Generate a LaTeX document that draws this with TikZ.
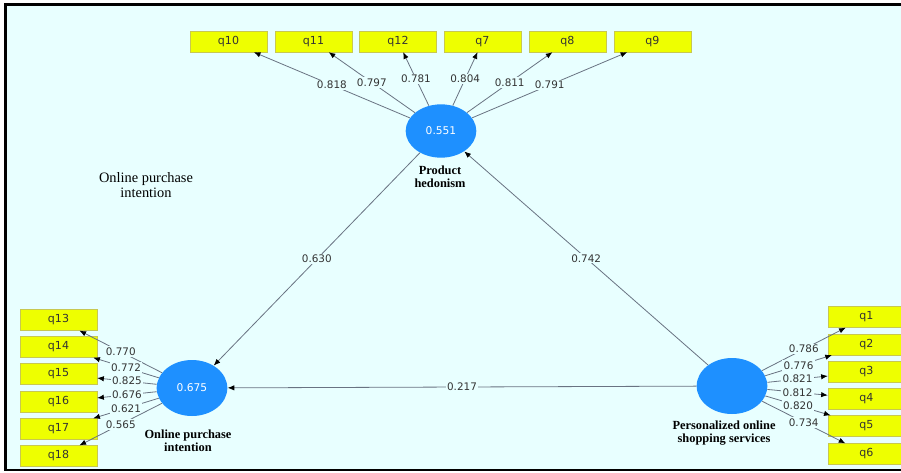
\documentclass[tikz,border=0pt]{standalone}
\usepackage{fontspec}
\setmainfont{Liberation Serif}
\setsansfont{DejaVu Sans}
\usetikzlibrary{arrows.meta,shapes.geometric}
\definecolor{bgcyan}{RGB}{232,255,255}
\definecolor{lvblue}{RGB}{30,144,255}
\definecolor{indyellow}{RGB}{238,255,0}
\definecolor{indedge}{RGB}{200,200,80}
\definecolor{pathgrey}{RGB}{105,115,130}
\begin{document}
\begin{tikzpicture}[x=0.75pt,y=-0.75pt]
	\tikzstyle{lv}=[ellipse, fill=lvblue, minimum width=53pt, minimum height=42pt, inner sep=0pt, text=white, font=\sffamily\fontsize{8}{9}\selectfont]
	\tikzstyle{ind}=[rectangle, fill=indyellow, draw=indedge, line width=0.5pt, minimum width=57.5pt, minimum height=15.5pt, inner sep=0pt, text=black!80, font=\sffamily\fontsize{8.3}{9}\selectfont]
	\tikzstyle{lvname}=[align=center, font=\bfseries\fontsize{9.3}{9.8}\selectfont]
	\tikzstyle{arr}=[draw=pathgrey, line width=0.6pt, -{Latex[length=5pt,width=4pt,color=black]}]
	\tikzstyle{lbl}=[fill=bgcyan, inner sep=1pt, text=black!80, font=\sffamily\fontsize{7.8}{9}\selectfont]
	% frame and background
	\useasboundingbox (0,0) rectangle (901,472);
	\fill[white] (0,0) rectangle (901,472);
	\draw[fill=bgcyan, line width=1.8pt] (5.3,4.6) rectangle (915,470);
	% latent variables
	\draw (441,131) node (ph) [lv, minimum height=40pt] {0.551};
	\draw (192,388) node (opi) [lv] {0.675};
	\draw (732,386) node (poss) [lv] {};
	\draw (440,177) node (phname) [lvname] {Product\\hedonism};
	\draw (188,441) node (opiname) [lvname] {Online purchase\\intention};
	\draw (724,433) node (possname) [lvname] {Personalized online\\shopping services};
	\draw (146,185) node (title) [align=center, font=\fontsize{10.8}{11.3}\selectfont] {Online purchase\\intention};
	% indicators of product hedonism
	\draw (228.5,41.5) node (q10) [ind] {q10};
	\draw (313.5,41.5) node (q11) [ind] {q11};
	\draw (398,41.5) node (q12) [ind] {q12};
	\draw (482.5,41.5) node (q7) [ind] {q7};
	\draw (567.5,41.5) node (q8) [ind] {q8};
	\draw (652.5,41.5) node (q9) [ind] {q9};
	% indicators of online purchase intention
	\draw (58.5,320) node (q13) [ind] {q13};
	\draw (58.5,347) node (q14) [ind] {q14};
	\draw (58.5,374) node (q15) [ind] {q15};
	\draw (58.5,402) node (q16) [ind] {q16};
	\draw (58.5,429) node (q17) [ind] {q17};
	\draw (58.5,456) node (q18) [ind] {q18};
	% indicators of personalized online shopping services
	\draw (866.5,317) node (q1) [ind] {q1};
	\draw (866.5,344.5) node (q2) [ind] {q2};
	\draw (866.5,372) node (q3) [ind] {q3};
	\draw (866.5,399) node (q4) [ind] {q4};
	\draw (866.5,426) node (q5) [ind] {q5};
	\draw (866.5,454) node (q6) [ind] {q6};
	% outer loadings
	\draw[arr] (ph) -- node[lbl] {0.818} (q10);
	\draw[arr] (ph) -- node[lbl] {0.797} (q11);
	\draw[arr] (ph) -- node[lbl] {0.781} (q12);
	\draw[arr] (ph) -- node[lbl] {0.804} (q7);
	\draw[arr] (ph) -- node[lbl] {0.811} (q8);
	\draw[arr] (ph) -- node[lbl] {0.791} (q9);
	\draw[arr] (opi) -- node[lbl] {0.770} (q13);
	\draw[arr] (opi) -- node[lbl] {0.772} (q14);
	\draw[arr] (opi) -- node[lbl] {0.825} (q15);
	\draw[arr] (opi) -- node[lbl] {0.676} (q16);
	\draw[arr] (opi) -- node[lbl] {0.621} (q17);
	\draw[arr] (opi) -- node[lbl] {0.565} (q18);
	\draw[arr] (poss) -- node[lbl] {0.786} (q1);
	\draw[arr] (poss) -- node[lbl] {0.776} (q2);
	\draw[arr] (poss) -- node[lbl] {0.821} (q3);
	\draw[arr] (poss) -- node[lbl] {0.812} (q4);
	\draw[arr] (poss) -- node[lbl] {0.820} (q5);
	\draw[arr] (poss) -- node[lbl] {0.734} (q6);
	% path coefficients
	\draw[arr] (ph) -- node[lbl] {0.630} (opi);
	\draw[arr] (poss) -- node[lbl] {0.742} (ph);
	\draw[arr] (poss) -- node[lbl] {0.217} (opi);
\end{tikzpicture}
\end{document}
